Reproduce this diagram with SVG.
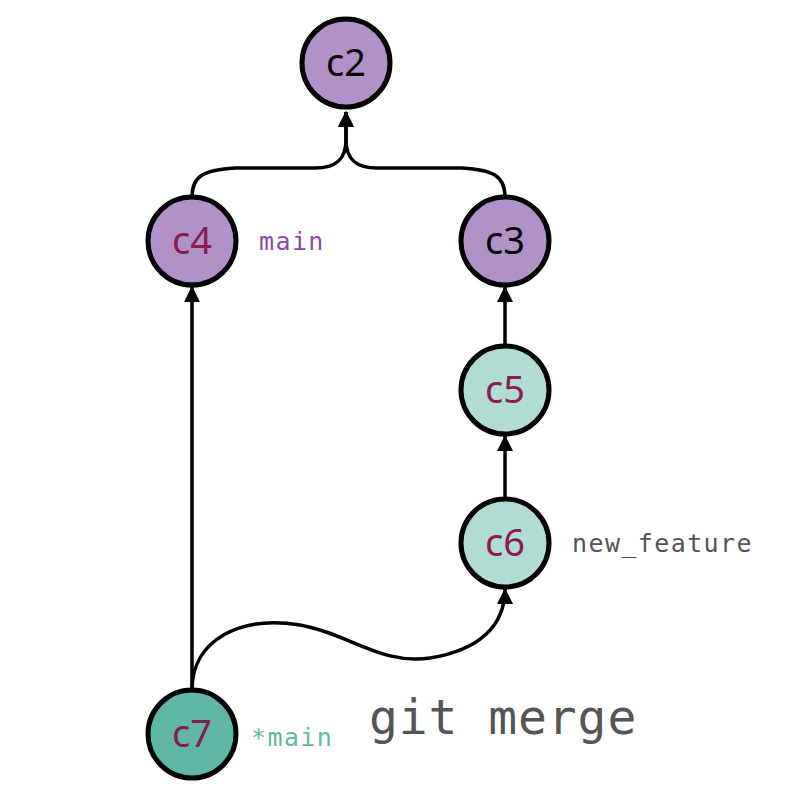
<svg xmlns="http://www.w3.org/2000/svg" width="800" height="800" viewBox="0 0 800 800">
<defs>
<marker id="arr" viewBox="0 0 16 16" refX="15" refY="8" markerWidth="16" markerHeight="16" markerUnits="userSpaceOnUse" orient="auto">
<path d="M0,0 L16,8 L0,16 Z" fill="#000"/>
</marker>
</defs>
<style>
.n{stroke:#000;stroke-width:5}
.p{fill:#b093c6}
.t{fill:#b0dcd3}
.d{fill:#5fb8a5}
.lbl{font-family:"Noto Sans","DejaVu Sans",sans-serif;font-size:38px;text-anchor:middle}
.k{fill:#000}
.m{fill:#8b1c4f}
.e{fill:none;stroke:#000;stroke-width:3.5;marker-end:url(#arr)}
.mono{font-family:"DejaVu Sans Mono","Liberation Mono",monospace}
</style>
<g id="edges">
<path class="e" d="M192,197 C192,175 205,170 235,168 L315,168 C335,168 346,160 346,140 L346,112"/>
<path class="e" d="M505,197 C505,175 492,170 462,168 L377,168 C357,168 346,160 346,140 L346,112"/>
<path class="e" d="M505,346 L505,287"/>
<path class="e" d="M505,499 L505,436"/>
<path class="e" d="M192,690 L192,287"/>
<path class="e" d="M192,690 C192,640 240,615 300,625 C350,634 380,665 430,658 C480,650 505,625 505,589"/>
</g>
<g id="c2"><circle class="n p" cx="346" cy="63" r="44"/><text class="lbl k" x="346" y="76">c2</text></g>
<g id="c4"><circle class="n p" cx="192" cy="241" r="44"/><text class="lbl m" x="192" y="254">c4</text></g>
<g id="c3"><circle class="n p" cx="505" cy="241" r="44"/><text class="lbl k" x="505" y="254">c3</text></g>
<g id="c5"><circle class="n t" cx="505" cy="390" r="44"/><text class="lbl m" x="505" y="403">c5</text></g>
<g id="c6"><circle class="n t" cx="505" cy="543" r="44"/><text class="lbl m" x="505" y="556">c6</text></g>
<g id="c7"><circle class="n d" cx="192" cy="734" r="44"/><text class="lbl m" x="192" y="747">c7</text></g>
<g id="labels">
<text class="mono" x="259" y="250" font-size="25" letter-spacing="1.4" fill="#8a4aa8">main</text>
<text class="mono" x="572" y="552" font-size="25" letter-spacing="1.4" fill="#555">new_feature</text>
<text class="mono" x="251" y="746" font-size="25" letter-spacing="1.4" fill="#5fb8a5">*main</text>
<text class="mono" x="369" y="734" font-size="48" letter-spacing="0.9" fill="#555">git merge</text>
</g>
</svg>
